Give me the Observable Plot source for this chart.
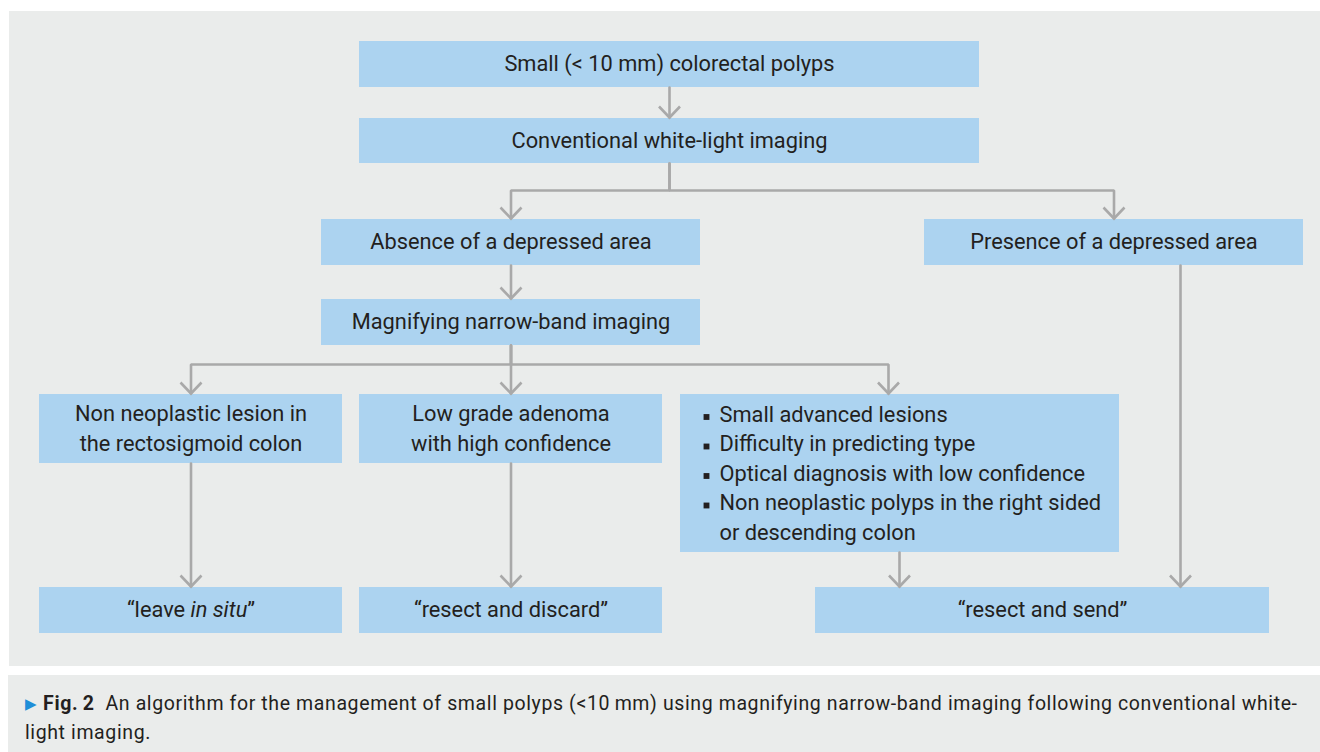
<!DOCTYPE html>
<html>
<head>
<meta charset="utf-8">
<script src="https://cdn.jsdelivr.net/npm/d3@7"></script>
<script src="https://cdn.jsdelivr.net/npm/@observablehq/plot@0.6"></script>
<style>
  html, body { margin: 0; padding: 0; background: #ffffff; }
  body { width: 1320px; height: 752px; overflow: hidden; font-family: Roboto, "Noto Sans", sans-serif; }
  #panel { position: absolute; left: 9px; top: 11px; width: 1311px; height: 655px; background: #eaeceb; }
  #caption { position: absolute; left: 8px; top: 675px; width: 1312px; height: 77px; background: #eaeceb;
    box-sizing: border-box; padding: 15px 0 0 17px; font-size: 19.5px; line-height: 27px; color: #231f20; white-space: nowrap; }
  #caption .tri { color: #1f8fd8; font-size: 15px; position: relative; top: -1px; }
  #caption b { font-weight: 700; }
</style>
</head>
<body>
<div id="panel"></div>
<div id="caption"><span id="capline1"><span class="tri">&#9654;</span> <b>Fig.&#8201;2</b>&nbsp; An algorithm for the management of small polyps (&lt;10&#8201;mm) using magnifying narrow-band imaging following conventional white-</span><br><span id="capline2">light imaging.</span></div>
<script>
// ---------- data ----------
const nodeIds = ["polyps", "wli", "absence", "presence", "mnbi", "nonneo", "lowgrade", "other", "leave", "discard", "send"];
const nodeText = [
  "Small (< 10 mm) colorectal polyps",
  "Conventional white-light imaging",
  "Absence of a depressed area",
  "Presence of a depressed area",
  "Magnifying narrow-band imaging",
  "Non neoplastic lesion in\nthe rectosigmoid colon",
  "Low grade adenoma\nwith high confidence",
  "",
  "\u201Cleave in situ\u201D",
  "\u201Cresect and discard\u201D",
  "\u201Cresect and send\u201D"
];
const bulletNode = "other";
const bulletItems = [
  "Small advanced lesions",
  "Difficulty in predicting type",
  "Optical diagnosis with low confidence",
  "Non neoplastic polyps in the right sided\nor descending colon"
];
const edgeFrom = ["polyps", "wli", "wli", "absence", "mnbi", "mnbi", "mnbi", "nonneo", "lowgrade", "other", "presence"];
const edgeTo   = ["wli", "absence", "presence", "mnbi", "nonneo", "lowgrade", "other", "leave", "discard", "send", "send"];

// ---------- layout (page pixel units) ----------
const boxLayout = {
  polyps:   [359, 979, 41, 87],
  wli:      [359, 979, 118, 163],
  absence:  [321, 700, 219, 265],
  presence: [924, 1303, 219, 265],
  mnbi:     [321, 700, 299, 345],
  nonneo:   [39, 342, 394, 463],
  lowgrade: [359, 662, 394, 463],
  other:    [680, 1119, 394, 552],
  leave:    [39, 342, 587, 633],
  discard:  [359, 662, 587, 633],
  send:     [815, 1269, 587, 633]
};
const busY = { wli: 190, mnbi: 364 };
const laneX = { "mnbi>other": 888, "other>send": 899, "presence>send": 1180 };
const bulletLayout = { textX: 719, bulletX: 706, firstY: 414, step: 29.5 };

// ---------- derived tables ----------
const nodes = nodeIds.map((id, i) => {
  const [x1, x2, y1, y2] = boxLayout[id];
  return { id, text: nodeText[i], x1, x2, y1, y2, cx: (x1 + x2) / 2, cy: (y1 + y2) / 2 };
});
const byId = Object.fromEntries(nodes.map(d => [d.id, d]));

const connPts = [];
const tips = [];
edgeFrom.forEach((f, i) => {
  const s = byId[f], t = byId[edgeTo[i]], key = f + ">" + edgeTo[i];
  const tipY = t.y1 - 1;
  if (busY[f] !== undefined) {
    const tx = laneX[key] ?? t.cx;
    [[s.cx, s.y2], [s.cx, busY[f]], [tx, busY[f]], [tx, tipY]].forEach(([x, y]) => connPts.push({ edge: key, x, y }));
    tips.push({ x: tx, y: tipY });
  } else {
    const x = laneX[key] ?? s.cx;
    [[x, s.y2], [x, tipY]].forEach(([xx, y]) => connPts.push({ edge: key, x: xx, y }));
    tips.push({ x, y: tipY });
  }
});

const bulletLines = [];
let li = 0;
bulletItems.forEach(item => {
  item.split("\n").forEach((line, j) => {
    bulletLines.push({ text: line, first: j === 0, x: bulletLayout.textX, y: bulletLayout.firstY + li * bulletLayout.step });
    li++;
  });
});

const chevron = {
  draw(ctx) {
    ctx.moveTo(-10.5, -11);
    ctx.lineTo(0, 0);
    ctx.lineTo(10.5, -11);
  }
};

const lineColor = "#a9a9a9";
const boxColor = "#acd3f0";
const textColor = "#231f20";
const fs = 21.8;

const chart = Plot.plot({
  width: 1311,
  height: 655,
  margin: 0,
  x: { type: "linear", domain: [9, 1320], range: [0, 1311], axis: null },
  y: { type: "linear", domain: [11, 666], range: [0, 655], axis: null },
  style: { background: "transparent", fontFamily: "Roboto, 'Noto Sans', sans-serif", overflow: "visible" },
  marks: [
    Plot.rect(nodes, { x1: "x1", x2: "x2", y1: "y1", y2: "y2", fill: boxColor }),
    Plot.line(connPts, { x: "x", y: "y", z: "edge", stroke: lineColor, strokeWidth: 2.6, curve: "linear", strokeLinejoin: "miter" }),
    Plot.dot(tips, { x: "x", y: "y", symbol: chevron, fill: "none", stroke: lineColor, strokeWidth: 2.6, r: 11 }),
    Plot.text(nodes.filter(d => d.text), { x: "cx", y: "cy", dy: -2.5, text: "text", fontSize: fs, lineHeight: 1.353, fill: textColor }),
    Plot.text(bulletLines, { x: "x", y: "y", dy: 0.5, text: "text", textAnchor: "start", fontSize: fs, fill: textColor }),
    Plot.dot(bulletLines.filter(d => d.first), { x: () => bulletLayout.bulletX, y: d => d.y + 2.5, symbol: "square", r: 3.3, fill: textColor, stroke: "none" })
  ]
});
chart.style.position = "absolute";
chart.style.left = "0px";
chart.style.top = "0px";
document.getElementById("panel").appendChild(chart);

// italic "in situ"
d3.select(chart).selectAll("text").each(function () {
  if (this.textContent === "\u201Cleave in situ\u201D") {
    const el = d3.select(this);
    el.text(null);
    el.append("tspan").text("\u201Cleave ");
    el.append("tspan").attr("font-style", "italic").text("in situ");
    el.append("tspan").text("\u201D");
  }
});

// stretch caption first line to the reference measure
const cap1 = document.getElementById("capline1");
const target = 1272;
const w = cap1.getBoundingClientRect().width;
const n = cap1.textContent.length;
if (w < target && n > 1) {
  const ls = (target - w) / (n - 1);
  cap1.style.letterSpacing = ls + "px";
  document.getElementById("capline2").style.letterSpacing = ls + "px";
}
</script>
</body>
</html>
